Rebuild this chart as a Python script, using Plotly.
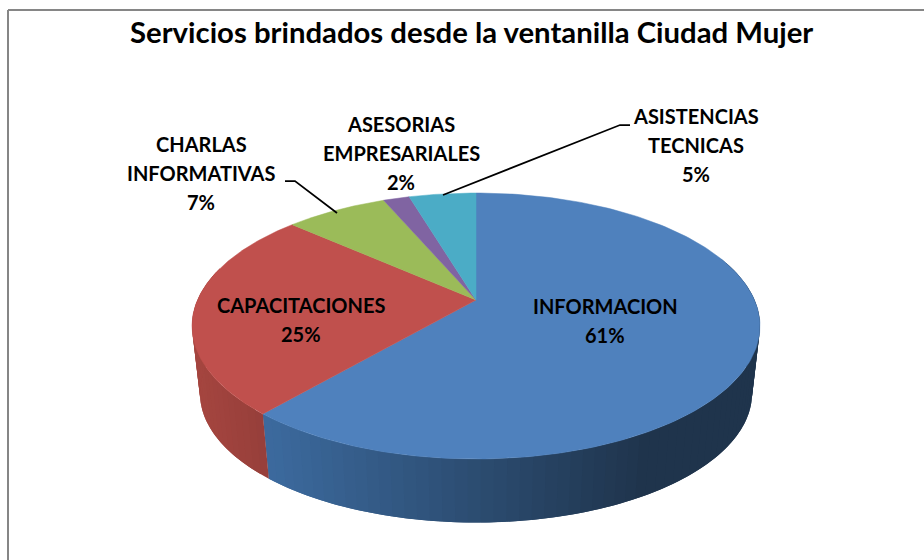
import numpy as np
import plotly.graph_objects as go

# ---- data ----
categories = ["INFORMACION", "CAPACITACIONES", "CHARLAS INFORMATIVAS",
              "ASESORIAS EMPRESARIALES", "ASISTENCIAS TECNICAS"]
values = [61.3, 25.3, 7.0, 1.8, 4.6]
label_lines = [["INFORMACION"], ["CAPACITACIONES"], ["CHARLAS", "INFORMATIVAS"],
               ["ASESORIAS", "EMPRESARIALES"], ["ASISTENCIAS", "TECNICAS"]]
title = "Servicios brindados desde la ventanilla Ciudad Mujer"

# ---- styles ----
top_colors = ["#4F81BD", "#C0504D", "#9BBB59", "#8064A2", "#4BACC6"]
wall_left = {0: "#3C6A9E", 1: "#A4453F"}
wall_right = {0: "#1F344C", 1: "#953E3A"}
FONT = "Lato"

# ---- projection of the pie onto the page ----
CX, CY, A, B, K = 476.0, 300.0, 278.5, 127.9, 0.1955
S, CY2 = 0.972, 368.0   # lower rim scale / vanishing centre


def rim(theta, lower=False):
    X, Y = np.sin(theta), np.cos(theta)
    w = 1 + K * Y
    x, y = A * X / w, -B * Y / w
    if lower:
        return CX + S * x, CY2 + S * y
    return CX + x, CY + y


def mix(c1, c2, t):
    a = [int(c1[i:i + 2], 16) for i in (1, 3, 5)]
    b = [int(c2[i:i + 2], 16) for i in (1, 3, 5)]
    return "#%02x%02x%02x" % tuple(round(p + (q - p) * t) for p, q in zip(a, b))


fractions = np.array(values) / sum(values)
edges = np.concatenate([[0], np.cumsum(fractions)]) * 2 * np.pi

traces = []
# side wall: overlapping strips, shaded left-to-right as in the reference
for idx in (0, 1):
    start = max(edges[idx], np.radians(70))
    end = min(edges[idx + 1], np.radians(285))
    steps = np.linspace(start, end, 70 if idx == 0 else 30)
    step = steps[1] - steps[0]
    for t0, t1 in zip(steps[:-1], steps[1:]):
        tt = np.linspace(t0, min(t1 + step, end), 4)
        x0, y0 = rim(tt)
        x1, y1 = rim(tt[::-1], lower=True)
        xs = np.concatenate([x0, x1, x0[:1]])
        ys = np.concatenate([y0, y1, y0[:1]])
        if idx == 0:
            pos = min(max((xs.mean() - 265) / (640 - 265), 0), 1)
        else:
            pos = min(max((xs.mean() - 200) / 70, 0), 1)
        col = mix(wall_left[idx], wall_right[idx], pos)
        traces.append(go.Scatter(x=xs, y=ys, mode="none", fill="toself", fillcolor=col,
                                 hoverinfo="skip", showlegend=False))

# top face
for i, name in enumerate(categories):
    tt = np.linspace(edges[i], edges[i + 1], 200)
    x, y = rim(tt)
    xs = np.concatenate([[CX], x, [CX]])
    ys = np.concatenate([[CY], y, [CY]])
    traces.append(go.Scatter(x=xs, y=ys, mode="lines", fill="toself", fillcolor=top_colors[i],
                             line=dict(color=top_colors[i], width=0.5), name=name, showlegend=False,
                             hoverinfo="name"))

fig = go.Figure(traces)

# ---- text ----
label_x = [605, 301, 201, 401, 696]
label_y = [306, 305, 144, 124, 116]
LINE_STEP = 29
annotations = []
for i, lines in enumerate(label_lines):
    rows = lines + [f"{round(values[i])}%"]
    for j, txt in enumerate(rows):
        annotations.append(dict(x=label_x[i], y=label_y[i] + j * LINE_STEP, text=f"<b>{txt}</b>",
                                showarrow=False, xanchor="center", yanchor="middle",
                                font=dict(family=FONT, size=20, color="#000000")))
annotations.append(dict(x=471, y=31, text=f"<b>{title}</b>", showarrow=False, xanchor="center",
                        yanchor="middle", font=dict(family=FONT, size=29.3, color="#000000")))

# ---- frame and leader lines ----
shapes = [
    dict(type="line", x0=8, y0=10, x1=924, y1=10, line=dict(color="#868686", width=2)),
    dict(type="line", x0=8, y0=10, x1=8, y1=560, line=dict(color="#868686", width=2)),
    dict(type="path", path="M 285 181 L 295 181 L 337 213", line=dict(color="#000000", width=1.75)),
    dict(type="path", path="M 630 125 L 620 125 L 443 195", line=dict(color="#000000", width=1.75)),
]

fig.update_layout(
    width=924, height=560, margin=dict(l=0, r=0, t=0, b=0),
    paper_bgcolor="#FFFFFF", plot_bgcolor="#FFFFFF",
    xaxis=dict(range=[0, 924], visible=False, fixedrange=True),
    yaxis=dict(range=[560, 0], visible=False, fixedrange=True),
    annotations=annotations, shapes=shapes, showlegend=False,
)
fig.write_html("out.html", config={"displayModeBar": False},
               post_script="document.body.style.margin='0';document.body.style.overflow='hidden';")
